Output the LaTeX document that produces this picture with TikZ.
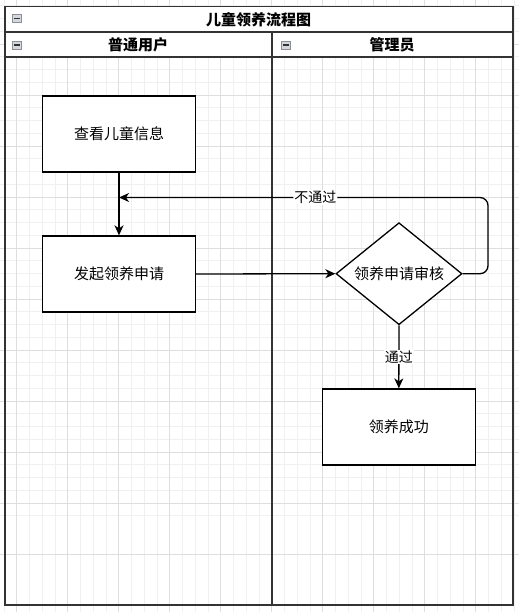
\documentclass[tikz,border=0pt]{standalone}
\usepackage{fontspec}
\setmainfont{Noto Sans CJK SC}
\usetikzlibrary{shapes.geometric,arrows.meta}
\definecolor{gridminor}{HTML}{F0F0F0}
\definecolor{gridmajor}{HTML}{DEDEDE}
\definecolor{frame}{HTML}{333333}
\definecolor{iconfill}{HTML}{D3D7DE}
\definecolor{icondraw}{HTML}{8C9096}
\tikzset{
  box/.style={draw=black, line width=1.3pt, fill=white, minimum width=153pt, minimum height=76pt, inner sep=0pt, font=\fontsize{15}{18}\selectfont},
  decision/.style={diamond, draw=black, line width=1.3pt, fill=white, minimum width=126pt, minimum height=102pt, shape aspect=1.235, inner sep=0pt, font=\fontsize{15}{18}\selectfont},
  flow/.style={draw=black, line width=1.3pt, -{Stealth[length=10pt,width=9pt,inset=3pt]}},
  lbl/.style={fill=white, inner sep=1pt, font=\fontsize{14}{16}\selectfont},
  head/.style={inner sep=0pt, font=\fontsize{15}{18}\selectfont\bfseries},
  icon/.style={draw=icondraw, fill=iconfill, line width=0.6pt, minimum width=9pt, minimum height=8pt, inner sep=0pt},
  framel/.style={draw=frame, line width=1.6pt}
}
\begin{document}
\begin{tikzpicture}[x=1pt,y=-1pt]
\useasboundingbox (0,0) rectangle (519,612);
\fill[white] (0,0) rectangle (519,612);
% grid
\foreach \i in {0,...,40} {
  \pgfmathsetmacro{\gx}{3.95+12.75*\i}
  \pgfmathsetmacro{\gy}{5.75+12.75*\i}
  \draw[gridminor, line width=0.9pt] (\gx,0) -- (\gx,612);
  \draw[gridminor, line width=0.9pt] (0,\gy) -- (519,\gy);
}
\foreach \i in {0,...,10} {
  \pgfmathsetmacro{\gx}{16.7+51*\i}
  \pgfmathsetmacro{\gy}{44+51*\i}
  \draw[gridmajor, line width=0.9pt] (\gx,0) -- (\gx,612);
  \draw[gridmajor, line width=0.9pt] (0,\gy) -- (519,\gy);
}
% swimlane headers
\fill[white] (4.7,6.7) rectangle (512.7,57.3);
\draw[framel] (4.7,6.7) rectangle (512.7,604.7);
\draw[framel] (4.7,32.3) -- (512.7,32.3);
\draw[framel] (4.7,57.3) -- (512.7,57.3);
\draw[framel] (271.7,32.3) -- (271.7,604.7);
\node[head] (title) at (258.7,19.5) {儿童领养流程图};
\node[head] (lane1) at (138.2,44.8) {普通用户};
\node[head] (lane2) at (392.2,44.8) {管理员};
\foreach \n/\cx/\cy in {i0/16.8/18.5, i1/16.8/45, i2/285.5/45} {
  \node[icon] (\n) at (\cx,\cy) {};
  \draw[black!80, line width=1.2pt] ([xshift=1.8pt]\n.west) -- ([xshift=-1.8pt]\n.east);
}
% nodes
\node[box] (view) at (119,134) {查看儿童信息};
\node[box] (apply) at (119,274) {发起领养申请};
\node[decision] (check) at (399,273.7) {领养申请审核};
\node[box] (ok) at (398.8,427) {领养成功};
\coordinate (bend) at (488,273.7);
\coordinate (join) at (119,197.5);
% edges
\draw[flow] (view.south) -- (apply.north);
\draw[flow] (apply.east) -- (check.west);
\draw[flow] (check.south) -- node[lbl]{通过} (ok.north);
\draw[flow, rounded corners=8pt] (check.east) -- (bend) |- node[lbl, pos=0.734]{不通过} (join);
\end{tikzpicture}
\end{document}
